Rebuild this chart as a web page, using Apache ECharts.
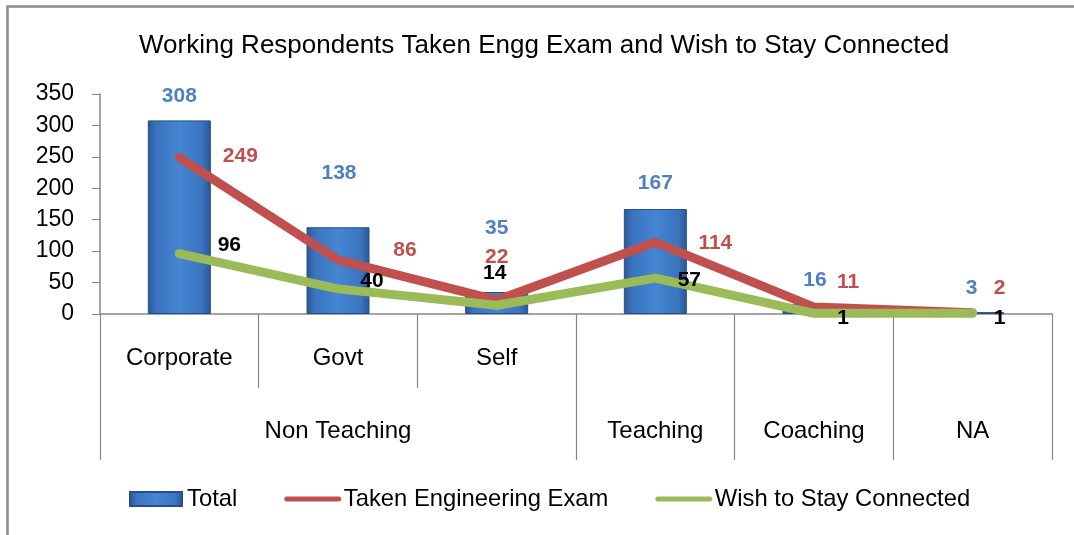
<!DOCTYPE html>
<html>
<head>
<meta charset="utf-8">
<script src="https://cdn.jsdelivr.net/npm/echarts@6/dist/echarts.min.js"></script>
<style>
  html, body { margin: 0; padding: 0; background: #fff; }
  #chart { width: 1074px; height: 535px; }
</style>
</head>
<body>
<div id="chart"></div>
<script>
(function () {
  'use strict';

  // categories: inner level and outer level
  const subLabels = ['Corporate', 'Govt', 'Self', '', '', ''];
  const groups = ['Non Teaching', 'Non Teaching', 'Non Teaching', 'Teaching', 'Coaching', 'NA'];

  // series values
  const total = [308, 138, 35, 167, 16, 3];
  const takenExam = [249, 86, 22, 114, 11, 2];
  const stayConnected = [96, 40, 14, 57, 1, 1];

  const yTicks = [0, 50, 100, 150, 200, 250, 300, 350];

  // label nudges, per point (style only)
  const totalOffsets = [[0, -13], [1, -43], [0, -53], [0, -15], [1, -13], [-1, -13]];
  const takenOffsets = [[61, -1], [67, -10], [0, -43], [60, 1], [34, -25], [27, -25]];
  const stayOffsets = [[50, -8], [34, -8], [-2, -32], [34, 2], [29, 5], [27, 5]];

  const FONT = 'Liberation Sans';
  const AXIS_GRAY = '#868686';

  // spans of the outer level, built from the groups list
  const spans = [];
  groups.forEach(function (g, i) {
    const last = spans[spans.length - 1];
    if (last && last.name === g) { last.end = i + 1; }
    else { spans.push({ name: g, start: i, end: i + 1 }); }
  });
  const spanEdges = [0].concat(spans.map(function (s) { return s.end; }));
  const spanMids = spans.map(function (s) { return (s.start + s.end) / 2; });

  const leafNames = subLabels.map(function (s, i) { return s || groups[i]; });

  function withOffsets(values, offs) {
    return values.map(function (v, i) {
      return { value: v, label: { offset: offs[i] } };
    });
  }

  const chart = echarts.init(document.getElementById('chart'), null, { renderer: 'canvas' });
  chart.setOption({
    animation: false,
    backgroundColor: '#fff',
    textStyle: { fontFamily: FONT },
    graphic: [{
      type: 'rect', left: 5, top: 4,
      shape: { width: 1200, height: 700 },
      style: { fill: null, stroke: '#8a8a8a', lineWidth: 2.5 },
      silent: true
    }],
    title: {
      text: 'Working Respondents Taken Engg Exam and Wish to Stay Connected',
      left: 139, top: 33, padding: 0,
      textStyle: { fontFamily: FONT, fontSize: 26, fontWeight: 'normal', color: '#000' }
    },
    legend: {
      left: 129, top: 487, padding: 0,
      itemWidth: 52, itemHeight: 14, itemGap: 47,
      textStyle: { fontFamily: FONT, fontSize: 23.8, color: '#000' },
      data: [
        { name: 'Total', icon: 'rect' },
        { name: 'Taken Engineering Exam', itemStyle: { opacity: 0 }, lineStyle: { width: 5 } },
        { name: 'Wish to Stay Connected', itemStyle: { opacity: 0 }, lineStyle: { width: 5 } }
      ]
    },
    grid: { left: 100, right: 22, top: 94, bottom: 221 },
    xAxis: [{
      type: 'category',
      data: leafNames,
      boundaryGap: true,
      axisLine: { lineStyle: { color: AXIS_GRAY, width: 1.5 } },
      axisTick: { show: true, interval: 0, length: 74, lineStyle: { color: AXIS_GRAY, width: 1.2 } },
      axisLabel: {
        interval: 0, margin: 32, fontSize: 24, color: '#000', fontFamily: FONT,
        formatter: function (v, i) { return subLabels[i]; }
      }
    }, {
      type: 'value',
      position: 'bottom',
      offset: 74,
      min: 0, max: groups.length,
      axisLine: { show: false },
      splitLine: { show: false },
      axisTick: { show: true, length: 72, customValues: spanEdges, lineStyle: { color: AXIS_GRAY, width: 1.2 } },
      axisLabel: {
        margin: 31, fontSize: 24, color: '#000', fontFamily: FONT,
        customValues: spanMids,
        formatter: function (v) {
          const s = spans.find(function (sp) { return Math.abs((sp.start + sp.end) / 2 - v) < 1e-6; });
          return s ? s.name : '';
        }
      }
    }],
    yAxis: {
      type: 'value',
      min: yTicks[0], max: yTicks[yTicks.length - 1], interval: 50,
      axisLine: { show: true, lineStyle: { color: AXIS_GRAY, width: 1.5 } },
      axisTick: { show: true, length: 8, lineStyle: { color: AXIS_GRAY } },
      splitLine: { show: false },
      axisLabel: { margin: 26, fontSize: 23, color: '#000', fontFamily: FONT, padding: [4, 0, 0, 0] }
    },
    series: [{
      name: 'Total',
      type: 'bar',
      barWidth: 63,
      data: withOffsets(total, totalOffsets),
      itemStyle: {
        borderColor: '#24508a', borderWidth: 1,
        color: new echarts.graphic.LinearGradient(0, 0, 1, 0, [
          { offset: 0, color: '#2a5793' },
          { offset: 0.14, color: '#3b74bf' },
          { offset: 0.5, color: '#4585d2' },
          { offset: 0.86, color: '#3b74bf' },
          { offset: 1, color: '#2a5793' }
        ])
      },
      label: {
        show: true, position: 'top', distance: 0, lineHeight: 22,
        fontFamily: FONT, fontSize: 21, fontWeight: 'bold', color: '#4f81bd'
      }
    }, {
      name: 'Taken Engineering Exam',
      type: 'line',
      data: withOffsets(takenExam, takenOffsets),
      color: '#c0504d',
      symbol: 'circle', symbolSize: 1, showSymbol: true,
      lineStyle: { width: 9, color: '#c0504d', cap: 'round', join: 'round' },
      label: {
        show: true, position: 'inside',
        fontFamily: FONT, fontSize: 21, fontWeight: 'bold', color: '#c0504d'
      }
    }, {
      name: 'Wish to Stay Connected',
      type: 'line',
      data: withOffsets(stayConnected, stayOffsets),
      color: '#9bbb59',
      symbol: 'circle', symbolSize: 1, showSymbol: true,
      lineStyle: { width: 9, color: '#9bbb59', cap: 'round', join: 'round' },
      label: {
        show: true, position: 'inside',
        fontFamily: FONT, fontSize: 21, fontWeight: 'bold', color: '#000'
      }
    }]
  });
  window.addEventListener('resize', function () { chart.resize(); });
})();
</script>
</body>
</html>
